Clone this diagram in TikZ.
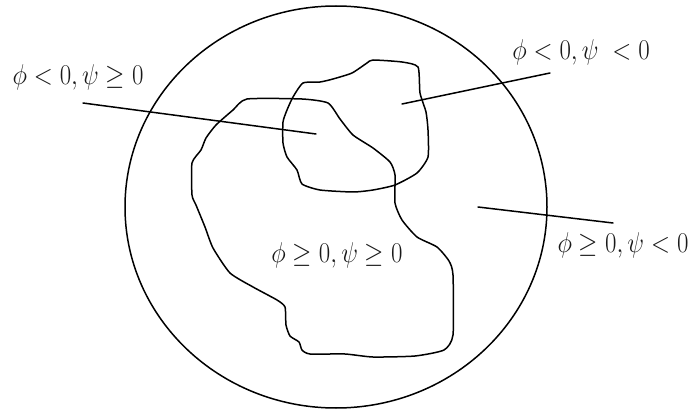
\documentclass[tikz,border=0pt]{standalone}
\usepackage{amsmath,amssymb}
\usepackage{xcolor}
\usepackage{tikz}
\usetikzlibrary{positioning}
\tikzset{
    every picture/.style={line cap=round,line join=round},
    regionlabel/.style={font=\fontsize{25}{30}\selectfont,inner sep=1pt,text=black!90},
    boundary/.style={draw=black,line width=1.5pt},
    leader/.style={draw=black,line width=1.5pt}
}

\begin{document}
\begin{tikzpicture}[x=1pt,y=-1pt]
  \useasboundingbox (0,0) rectangle (691,409);
  % outer domain
  \draw[boundary] (336,207) ellipse [x radius=211,y radius=201];
  % psi >= 0 region
  \draw[boundary] plot[smooth cycle,tension=0.35] coordinates {
    (247,99) (302,99) (328,103) (340,119) (353,135) (373,148) (390,162)
    (395,175) (395,203) (402,220) (417,237) (437,247) (449,261) (453,275)
    (453,335) (444,350) (415,356) (373,357) (345,354) (310,354) (302,350)
    (299,342) (290,336) (286,325) (285,307) (277,300) (253,287) (230,273)
    (213,248) (205,227) (196,205) (192,195) (192,163) (201,150) (206,138)
    (216,125) (233,110)};
  % phi < 0 region
  \draw[boundary] plot[smooth cycle,tension=0.35] coordinates {
    (333,79) (352,73) (367,63) (373,60) (402,62) (418,67) (420,93)
    (426,112) (428,130) (428,157) (417,173) (395,185) (373,190) (353,192)
    (320,190) (302,184) (297,170) (287,157) (283,143) (283,122) (287,110)
    (293,97) (303,83) (320,82)};
  % labels
  \node[regionlabel] (nm) at (78,77) {\scalebox{1}[1.15]{$\phi < 0, \psi \geq 0$}};
  \node[regionlabel] (nn) at (581,52) {\scalebox{1}[1.15]{$\phi < 0, \psi \;< 0$}};
  \node[regionlabel] (pn) at (623,245) {\scalebox{1}[1.15]{$\phi \geq 0, \psi < 0$}};
  \node[regionlabel] (pp) at (337,255) {\scalebox{1}[1.15]{$\phi \geq 0, \psi \geq 0$}};
  % leaders
  \coordinate (nmfrom) at (83,103);
  \coordinate (nmto) at (316,134);
  \coordinate (nnfrom) at (550,73);
  \coordinate (nnto) at (402,104);
  \coordinate (pnfrom) at (613,223);
  \coordinate (pnto) at (478,207);
  \draw[leader] (nmfrom) -- (nmto);
  \draw[leader] (nnfrom) -- (nnto);
  \draw[leader] (pnfrom) -- (pnto);
\end{tikzpicture}
\end{document}
